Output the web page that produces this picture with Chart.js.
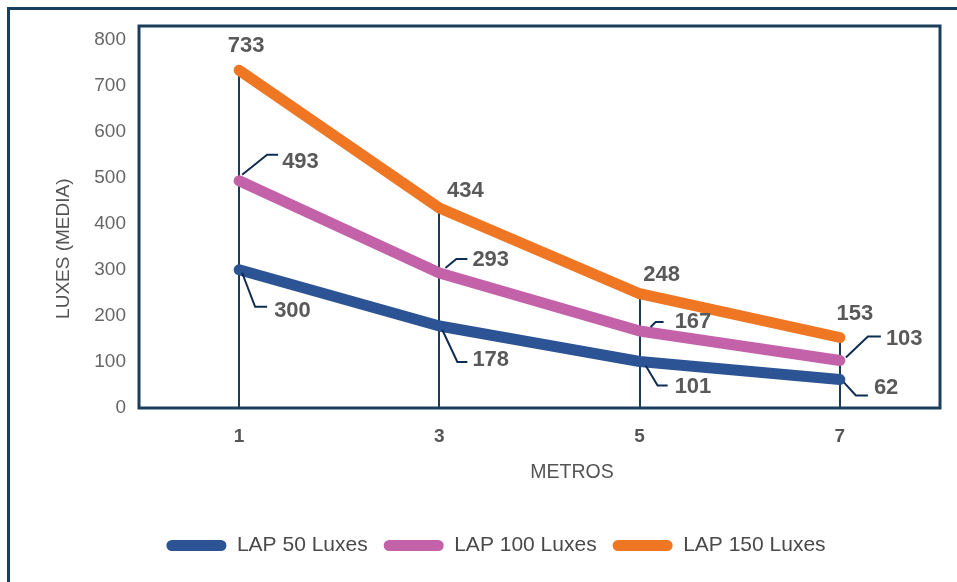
<!DOCTYPE html>
<html><head><meta charset="utf-8">
<script src="https://cdn.jsdelivr.net/npm/chart.js@4"></script>
<style>
html,body{margin:0;padding:0;background:#fff;overflow:hidden}
#wrap{position:relative;width:957px;height:582px;overflow:hidden}
#frame{position:absolute;left:7px;top:7px;width:2000px;height:2000px;border-left:3px solid #17405e;border-top:3px solid #17405e}
canvas{position:absolute;left:0;top:0}
</style></head><body>
<div id="wrap"><div id="frame"></div><canvas id="c" width="957" height="582"></canvas></div>
<script>
// ---- data ----
const categories = ['1', '3', '5', '7'];
const lap50  = [300, 178, 101, 62];
const lap100 = [493, 293, 167, 103];
const lap150 = [733, 434, 248, 153];
const seriesNames = ['LAP 50 Luxes', 'LAP 100 Luxes', 'LAP 150 Luxes'];
const yTicks = [0, 100, 200, 300, 400, 500, 600, 700, 800];
const xTitle = 'METROS';
const yTitle = 'LUXES (MEDIA)';

// ---- styles ----
const colors = ['#2c5494', '#c462a9', '#ef7623'];
const navy = '#1b3e5c';
const FONT = "'Liberation Sans', Arial, sans-serif";
const NB = '\u00a0';

// label placement offsets (pixels relative to each point)
const labelStyle = [
  // blue: leader down-right
  [{s:[3,3],k:[16,37],e:[28,37],t:[35,41]},
   {s:[3,4],k:[18,36],e:[28,36],t:[33,34]},
   {s:[6,4],k:[18,24],e:[28,24],t:[35,25]},
   {s:[4,3],k:[16,16],e:[28,16],t:[34,9]}],
  // pink: leader up-right
  [{s:[3,-6],k:[28,-26],e:[39,-26],t:[43,-19]},
   {s:[6,-5],k:[17,-14],e:[28,-14],t:[33,-13]},
   {s:[11,-4],k:[16,-9],e:[24,-9],t:[35,-9]},
   {s:[6,-3],k:[28,-24],e:[41,-24],t:[46,-22]}],
  // orange: centered above
  [{c:[7,-24]},{c:[26,-17]},{c:[22,-19]},{c:[15,-24]}]
];

const decor = {
  id: 'decor',
  beforeDatasetsDraw(chart) {
    const {ctx, chartArea: a, scales: {x, y}} = chart;
    ctx.save();
    ctx.strokeStyle = '#1d3b5a';
    ctx.lineWidth = 2;
    categories.forEach((c, i) => {
      const top = Math.max(...chart.data.datasets.map(d => d.data[i]));
      const px = Math.round(x.getPixelForValue(i));
      ctx.beginPath();
      ctx.moveTo(px, y.getPixelForValue(top));
      ctx.lineTo(px, a.bottom);
      ctx.stroke();
    });
    ctx.restore();
  },
  afterDatasetsDraw(chart) {
    const {ctx, chartArea: a, scales: {x, y}} = chart;
    ctx.save();
    ctx.strokeStyle = navy;
    ctx.lineWidth = 3;
    ctx.strokeRect(a.left, a.top, a.right - a.left, a.bottom - a.top);

    ctx.font = 'bold 22px ' + FONT;
    ctx.fillStyle = '#595959';
    ctx.textBaseline = 'middle';
    chart.data.datasets.forEach((ds, di) => {
      ds.data.forEach((v, i) => {
        const px = x.getPixelForValue(i), py = y.getPixelForValue(v);
        const st = labelStyle[di][i];
        if (st.c) {
          ctx.textAlign = 'center';
          ctx.fillText(String(v), px + st.c[0], py + st.c[1]);
        } else {
          ctx.strokeStyle = '#0f2d52';
          ctx.lineWidth = 2;
          ctx.beginPath();
          ctx.moveTo(px + st.s[0], py + st.s[1]);
          ctx.lineTo(px + st.k[0], py + st.k[1]);
          ctx.lineTo(px + st.e[0], py + st.e[1]);
          ctx.stroke();
          ctx.textAlign = 'left';
          ctx.fillText(String(v), px + st.t[0], py + st.t[1]);
        }
      });
    });
    ctx.restore();
  }
};

const seriesData = [lap50, lap100, lap150];
new Chart(document.getElementById('c'), {
  type: 'line',
  data: {
    labels: categories,
    datasets: seriesData.map((d, i) => ({
      label: seriesNames[i],
      data: d,
      borderColor: colors[i],
      backgroundColor: colors[i],
      borderWidth: 11,
      borderCapStyle: 'round',
      borderJoinStyle: 'round',
      pointRadius: 0,
      pointHoverRadius: 0,
      tension: 0,
      fill: false
    }))
  },
  options: {
    responsive: false,
    animation: false,
    events: [],
    layout: {padding: {left: 52, right: 17, top: 26, bottom: 16}},
    plugins: {
      tooltip: {enabled: false},
      legend: {
        position: 'bottom',
        align: 'center',
        labels: {
          boxWidth: 60,
          boxHeight: 11,
          useBorderRadius: true,
          borderRadius: 5.5,
          padding: 16,
          color: '#4a4a4a',
          font: {family: FONT, size: 21},
          generateLabels(chart) {
            return chart.data.datasets.map((ds, i) => ({
              text: ds.label,
              fillStyle: colors[i],
              strokeStyle: colors[i],
              lineWidth: 0,
              borderRadius: 5.5,
              hidden: false,
              datasetIndex: i,
              fontColor: '#4a4a4a'
            }));
          }
        }
      }
    },
    scales: {
      x: {
        type: 'category',
        offset: true,
        grid: {display: false, drawTicks: false},
        border: {display: false},
        ticks: {color: '#555', font: {family: FONT, size: 19, weight: 'bold'}, padding: 17},
        title: {display: true, text: NB.repeat(12) + xTitle, color: '#555', font: {family: FONT, size: 19.5}, padding: {top: 0, bottom: 35}},
        afterFit(s) { s.height = 111; }
      },
      y: {
        min: 0,
        max: 829,
        grid: {display: false, drawTicks: false},
        border: {display: false},
        afterBuildTicks(s) { s.ticks = yTicks.map(v => ({value: v})); },
        ticks: {color: '#666', font: {family: FONT, size: 19}, padding: 13},
        title: {display: true, text: yTitle + NB.repeat(12), color: '#555', font: {family: FONT, size: 19}, padding: {top: 0, bottom: 0}},
        afterFit(s) { s.width = 87; }
      }
    }
  },
  plugins: [decor]
});
</script>
</body></html>
